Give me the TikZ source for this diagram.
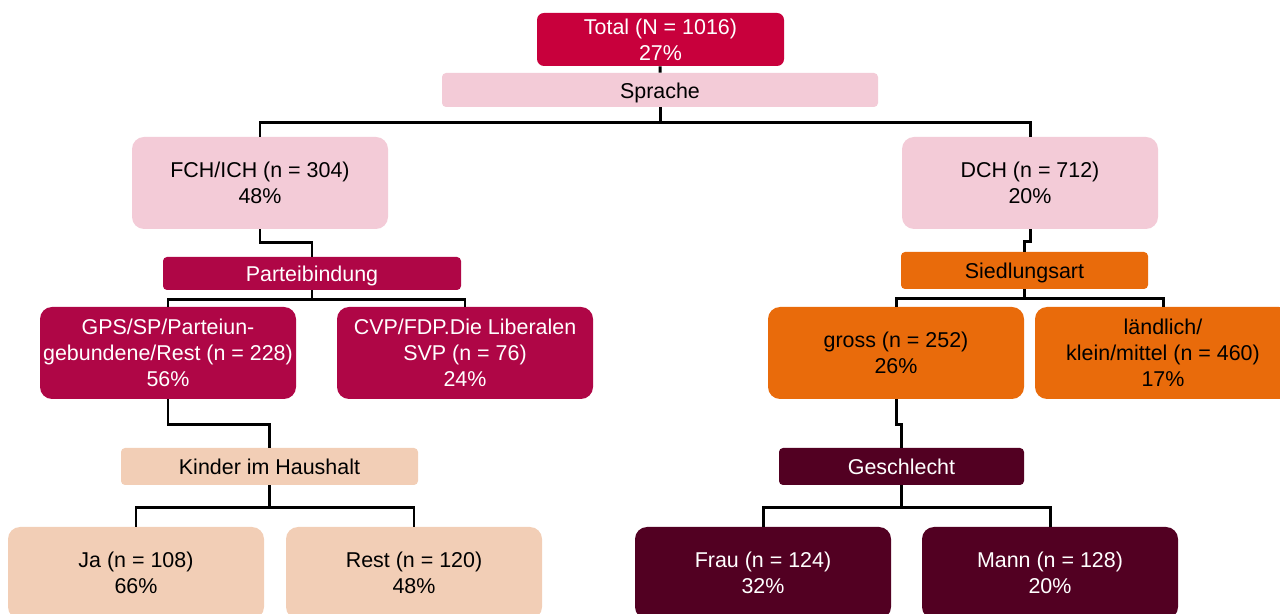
\documentclass[tikz,border=0pt]{standalone}
\usepackage{fontspec}
\setmainfont{Liberation Sans}
\usepackage{tikz}

\definecolor{totalred}{RGB}{200,0,60}
\definecolor{lightpink}{RGB}{243,203,215}
\definecolor{partyred}{RGB}{175,6,70}
\definecolor{peach}{RGB}{242,206,182}
\definecolor{settleorange}{RGB}{233,107,11}
\definecolor{darkwine}{RGB}{82,0,34}

\newcommand{\boxfont}{\fontsize{12.2}{14.7}\selectfont}

\tikzset{
  box/.style={rectangle, rounded corners=0.24cm, minimum width=5.12cm, minimum height=1.84cm, inner sep=0pt, align=center, font=\boxfont},
  split/.style={rectangle, rounded corners=0.08cm, minimum height=0.74cm, inner sep=0pt, align=center, font=\boxfont, text height=11pt, text depth=1.5pt},
  edge/.style={line width=1.7pt}
}

\begin{document}
\begin{tikzpicture}
            \useasboundingbox (0,0) rectangle (25.6,-12.28);

            % Nodes
            \node[box, fill=totalred, text=white, minimum width=4.94cm, minimum height=1.06cm, rounded corners=0.14cm] (total) at (13.21,-0.79) {Total (N = 1016)\\27\%};
            \node[split, fill=lightpink, minimum width=8.72cm, minimum height=0.68cm] (sprache) at (13.20,-1.80) {Sprache};

            \node[box, fill=lightpink] (fch) at (5.20,-3.66) {FCH/ICH (n = 304)\\48\%};
            \node[box, fill=lightpink] (dch) at (20.60,-3.66) {DCH (n = 712)\\20\%};

            \node[split, fill=partyred, text=white, minimum width=5.96cm, minimum height=0.66cm] (partei) at (6.24,-5.47) {Parteibindung};
            \node[split, fill=settleorange, minimum width=4.94cm] (siedlung) at (20.49,-5.41) {Siedlungsart};

            \node[box, fill=partyred, text=white] (gps) at (3.36,-7.06) {GPS/SP/Parteiun-\\gebundene/Rest (n = 228)\\56\%};
            \node[box, fill=partyred, text=white] (cvp) at (9.30,-7.06) {CVP/FDP.Die Liberalen\\SVP (n = 76)\\24\%};
            \node[box, fill=settleorange] (gross) at (17.92,-7.06) {gross (n = 252)\\26\%};
            \node[box, fill=settleorange] (laend) at (23.26,-7.06) {ländlich/\\klein/mittel (n = 460)\\17\%};

            \node[split, fill=peach, minimum width=5.94cm] (kinder) at (5.39,-9.33) {Kinder im Haushalt};
            \node[split, fill=darkwine, text=white, minimum width=4.90cm] (geschl) at (18.03,-9.33) {Geschlecht};

            \node[box, fill=peach] (ja) at (2.72,-11.46) {Ja (n = 108)\\66\%};
            \node[box, fill=peach] (rest) at (8.28,-11.46) {Rest (n = 120)\\48\%};
            \node[box, fill=darkwine, text=white] (frau) at (15.26,-11.46) {Frau (n = 124)\\32\%};
            \node[box, fill=darkwine, text=white] (mann) at (21.00,-11.46) {Mann (n = 128)\\20\%};

            % Edges
            \draw[edge] (total) -- (sprache);
            \draw[edge] (sprache.south) -- ++(0,-0.30) -| (fch.north);
            \draw[edge] (sprache.south) -- ++(0,-0.30) -| (dch.north);

            \draw[edge] (fch.south) -- ++(0,-0.26) -| (partei.north);
            \draw[edge] (partei.south) -- ++(0,-0.18) -| (gps.north);
            \draw[edge] (partei.south) -- ++(0,-0.18) -| (cvp.north);
            \draw[edge] (gps.south) -- ++(0,-0.50) -| (kinder.north);
            \draw[edge] (kinder.south) -- ++(0,-0.44) -| (ja.north);
            \draw[edge] (kinder.south) -- ++(0,-0.44) -| (rest.north);

            \draw[edge] (dch.south) -- ++(0,-0.24) -| (siedlung.north);
            \draw[edge] (siedlung.south) -- ++(0,-0.18) -| (gross.north);
            \draw[edge] (siedlung.south) -- ++(0,-0.18) -| (laend.north);
            \draw[edge] (gross.south) -- ++(0,-0.50) -| (geschl.north);
            \draw[edge] (geschl.south) -- ++(0,-0.44) -| (frau.north);
            \draw[edge] (geschl.south) -- ++(0,-0.44) -| (mann.north);
        \end{tikzpicture}
\end{document}
